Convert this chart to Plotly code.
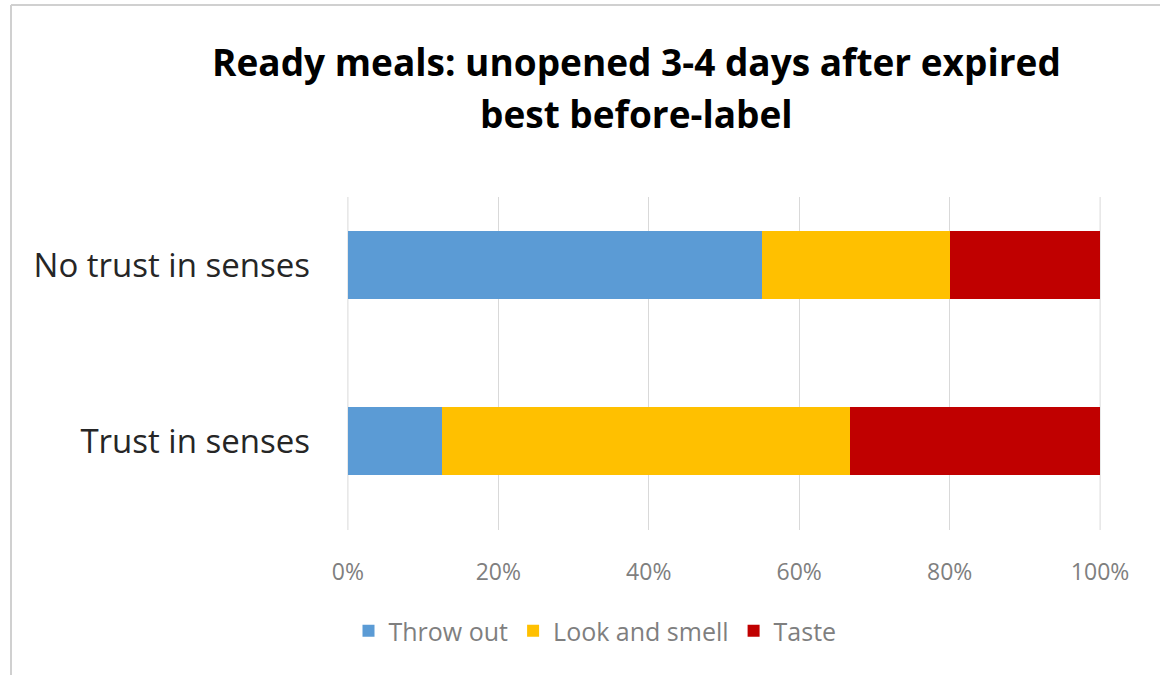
import plotly.graph_objects as go

categories = ["Trust in senses", "No trust in senses"]
series_names = ["Throw out", "Look and smell", "Taste"]
throw_out = [12.5, 55.0]
look_and_smell = [54.3, 25.0]
taste = [33.2, 20.0]
colors = ["#5B9BD5", "#FFC000", "#C00000"]
x_ticks = [0, 20, 40, 60, 80, 100]
x_tick_labels = ["0%", "20%", "40%", "60%", "80%", "100%"]
title_lines = ["Ready meals: unopened 3-4 days after expired", "best before-label"]

W, H = 1160, 675
L, R, T, B = 347, 59, 197, 145
pw, ph = W - L - R, H - T - B

def px_x(p):
    return (p - L) / pw

def px_y(p):
    return (H - B - p) / ph

fig = go.Figure()
for name, vals, col in zip(series_names, [throw_out, look_and_smell, taste], colors):
    fig.add_trace(go.Bar(
        y=categories, x=vals, name=name, orientation="h",
        marker=dict(color=col, line=dict(width=0)),
        width=0.386,
    ))

annotations = []
for line, yc in zip(title_lines, [61, 114]):
    annotations.append(dict(
        text=line, showarrow=False, xref="paper", yref="paper",
        x=px_x(636), xanchor="center", y=px_y(yc), yanchor="middle",
        font=dict(family="Open Sans", size=37, color="#000000", weight="bold"),
    ))

shapes = [
    dict(type="line", xref="paper", yref="paper",
         x0=px_x(11), x1=px_x(11), y0=px_y(675), y1=px_y(5),
         line=dict(color="#D0D0D0", width=2)),
    dict(type="line", xref="paper", yref="paper",
         x0=px_x(11), x1=px_x(1160), y0=px_y(5), y1=px_y(5),
         line=dict(color="#D0D0D0", width=2)),
]
# edge gridlines (0% and 100%) which plotly omits at the plot border
for t in (x_ticks[0], x_ticks[-1]):
    shapes.append(dict(type="line", xref="x", yref="paper", x0=t, x1=t, y0=0, y1=1,
                       layer="below", line=dict(color="#D9D9D9", width=1)))

fig.update_layout(
    width=W, height=H,
    margin=dict(l=L, r=R, t=T, b=B, autoexpand=False),
    paper_bgcolor="white", plot_bgcolor="white",
    barmode="stack",
    annotations=annotations,
    shapes=shapes,
    xaxis=dict(
        range=[-0.12, 100.12], tickvals=x_ticks, ticktext=x_tick_labels,
        showgrid=True, gridcolor="#D9D9D9", gridwidth=1, zeroline=False,
        showline=False, ticks="",
        ticklabelstandoff=26,
        tickfont=dict(family="Open Sans", size=23, color="#7F7F7F"),
    ),
    yaxis=dict(
        categoryorder="array", categoryarray=categories,
        range=[-0.506, 1.386],
        showgrid=False, zeroline=False, showline=False, ticks="",
        ticklabelstandoff=36,
        tickfont=dict(family="Open Sans", size=33, color="#262626"),
    ),
    legend=dict(
        orientation="h", x=px_x(595), xanchor="center",
        y=px_y(631), yanchor="middle",
        font=dict(family="Open Sans", size=25, color="#7F7F7F"),
        itemsizing="constant", traceorder="normal",
    ),
)

fig.write_html("out.html")
